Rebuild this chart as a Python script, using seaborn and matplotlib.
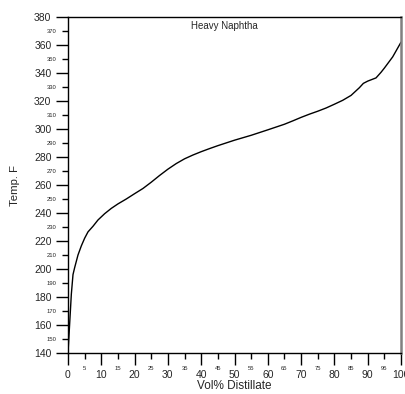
import matplotlib
matplotlib.use("Agg")
import matplotlib.pyplot as plt
import matplotlib.ticker as mticker
import pandas as pd
import seaborn as sns


# ----------------------------------
# Data
# ----------------------------------

vol_pct = [0, 0.5, 1, 1.5, 2, 3, 4, 5, 6, 7.5, 9, 11, 13, 15, 17.5, 20, 22.5,
           25, 27.5, 30, 32.5, 35, 37.5, 40, 42.5, 45, 50, 55, 60, 65, 67.5,
           70, 72.5, 75, 77.5, 80, 82.5, 85, 87.5, 88.7, 90, 92.5, 94, 95,
           97.5, 100]
temp_f = [140, 161, 182, 196, 201, 210, 216.5, 222, 226.5, 230.5, 235, 239.5,
          243.3, 246.5, 250, 253.8, 257.5, 262, 266.8, 271.3, 275.3, 278.7,
          281.4, 283.8, 286, 288.1, 292, 295.5, 299.4, 303.4, 305.8, 308.3,
          310.6, 312.7, 315, 317.7, 320.5, 324, 329.5, 332.6, 334.2, 336.5,
          340.5, 343.5, 351.5, 362]

title = "Heavy Naphtha"
x_label = "Vol% Distillate"
y_label = "Temp. F"

df = pd.DataFrame({"vol": vol_pct, "temp": temp_f})


# ----------------------------------
# Figure
# ----------------------------------

sns.set_style("ticks")
plt.rcParams["font.family"] = ["Liberation Sans", "DejaVu Sans"]

fig = plt.figure(figsize=(4.06, 3.94), dpi=100)
ax = fig.add_axes([68 / 406, 1 - 353 / 394, 333 / 406, 336 / 394])

sns.lineplot(
    data=df,
    x="vol",
    y="temp",
    color="black",
    linewidth=1.0,
    sort=False,
    estimator=None,
    ax=ax
)

ax.set_xlim(0, 100)
ax.set_ylim(140, 380)

# major / minor ticks with their own labels
ax.xaxis.set_major_locator(mticker.MultipleLocator(10))
ax.xaxis.set_minor_locator(mticker.FixedLocator(list(range(5, 100, 10))))
ax.xaxis.set_minor_formatter(mticker.FormatStrFormatter("%d"))
ax.yaxis.set_major_locator(mticker.MultipleLocator(20))
ax.yaxis.set_minor_locator(mticker.FixedLocator(list(range(150, 380, 20))))
ax.yaxis.set_minor_formatter(mticker.FormatStrFormatter("%d"))

ax.tick_params(axis="x", which="major", length=8.5, width=1.0,
               labelsize=7.5, pad=4.0, color="black")
ax.tick_params(axis="x", which="minor", length=4, width=1.0,
               labelsize=4.2, pad=5.0, color="black")
ax.tick_params(axis="y", which="major", length=8.5, width=1.0,
               labelsize=7.5, pad=3.4, color="black")
ax.tick_params(axis="y", which="minor", length=4, width=1.0,
               labelsize=4.2, pad=4.3, color="black")

for side in ["left", "bottom", "top"]:
    ax.spines[side].set_color("black")
    ax.spines[side].set_linewidth(1.0)
ax.spines["right"].set_color("#808080")
ax.spines["right"].set_linewidth(1.8)

ax.set_xlabel(x_label, fontsize=8.5, labelpad=0)
ax.set_ylabel(y_label, fontsize=8.2, labelpad=10)

ax.text(47, 377, title, fontsize=7, ha="center", va="top")

fig.savefig("out.png", dpi=100)
